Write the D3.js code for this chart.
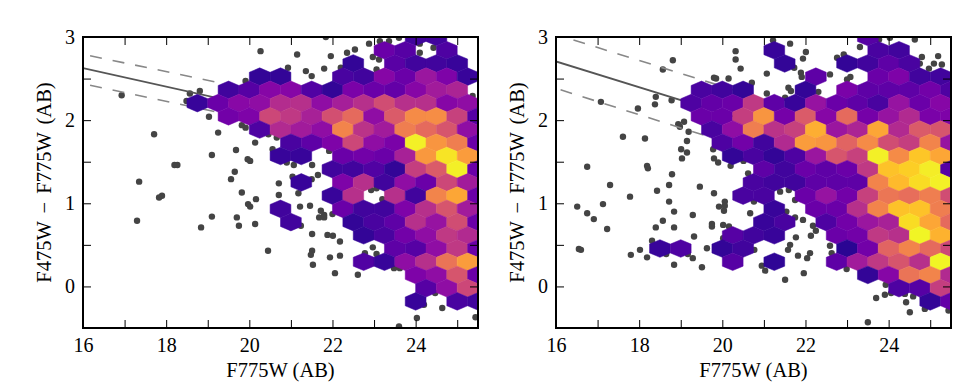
<!DOCTYPE html>
<html>
<head>
<meta charset="utf-8">
<script src="https://cdn.jsdelivr.net/npm/d3@7"></script>
<style>
    body { margin: 0; background: #fff; }
    text { font-family: "Liberation Serif", serif; fill: #000; }
    .tick line { stroke: #000; stroke-width: 1; }
    .tick text { font-size: 20px; }
    .domain { display: none; }
    .x-label { font-size: 20.5px; }
    .y-label { font-size: 20.5px; word-spacing: 3px; }
</style>
</head>
<body>
<div id="chart"></div>
<script>
const xTicks = [16, 17, 18, 19, 20, 21, 22, 23, 24, 25];
const yTicks = [-0.5, 0, 0.5, 1, 1.5, 2, 2.5, 3];
const xLabel = "F775W (AB)";
const yLabel = "F475W \u2212 F775W (AB)";

// hex grid: every row is 0.159 mag lower, odd rows shifted by a quarter mag
const hexColumns = [18.5, 19, 19.5, 20, 20.5, 21, 21.5, 22, 22.5, 23, 23.5, 24, 24.5, 25, 25.5];
const hexRows = [3, 2.841, 2.682, 2.523, 2.364, 2.205, 2.046, 1.887, 1.728, 1.569, 1.41,
    1.251, 1.092, 0.933, 0.774, 0.615, 0.456, 0.297, 0.138, -0.021, -0.18];

// colour level of each cell (percent along plasma), 0 = no cell
const leftLevels = [
    [0,0,0,0,0,0,0,0,0,0,0,10,10,0,0],
    [0,0,0,0,0,0,0,0,0,20,15,0,13,0,0],
    [0,0,0,0,0,0,0,0,7,0,16,10,10,8,0],
    [0,0,0,7,7,0,0,12,10,27,20,33,25,8,0],
    [0,0,10,15,27,27,14,7,24,20,18,27,35,38,0],
    [8,20,28,30,41,42,30,36,42,52,42,42,27,30,0],
    [0,0,22,25,50,45,37,53,62,30,57,72,73,48,15],
    [0,0,0,13,40,35,30,70,43,35,68,62,55,30,0],
    [0,0,0,0,0,12,17,25,50,30,24,98,75,68,20],
    [0,0,0,0,8,8,0,20,22,20,37,76,95,77,0],
    [0,0,0,0,0,0,0,10,10,14,7,47,57,98,20],
    [0,0,0,0,0,8,0,25,42,10,30,20,50,35,0],
    [0,0,0,0,0,0,0,8,42,0,42,10,70,80,20],
    [0,0,0,0,10,0,0,20,10,10,25,42,55,35,0],
    [0,0,0,0,0,10,0,0,7,12,17,42,32,52,20],
    [0,0,0,0,0,0,0,0,7,12,22,30,45,40,0],
    [0,0,0,0,0,0,0,0,0,0,17,15,30,45,20],
    [0,0,0,0,0,0,0,0,14,8,30,42,65,77,0],
    [0,0,0,0,0,0,0,0,0,0,0,25,30,55,20],
    [0,0,0,0,0,0,0,0,0,0,0,15,30,50,0],
    [0,0,0,0,0,0,0,0,0,0,0,8,0,12,10]
];
const rightLevels = [
    [0,0,0,0,0,0,0,0,0,0,15,0,0,0,0],
    [0,0,0,0,0,8,0,0,0,0,12,10,0,0,0],
    [0,0,0,0,0,0,7,0,0,7,10,17,12,0,0],
    [0,0,0,0,0,0,0,17,0,0,20,25,10,10,0],
    [0,0,12,10,7,0,0,7,0,24,17,17,17,22,13],
    [0,13,18,20,45,17,8,32,20,17,12,32,20,27,0],
    [0,0,20,20,47,75,23,57,27,62,23,32,40,24,25],
    [0,0,12,30,68,43,48,82,33,38,80,40,57,55,0],
    [0,0,0,13,22,10,40,77,75,60,72,52,47,70,32],
    [0,0,0,7,12,7,13,33,55,48,98,72,88,80,0],
    [0,0,0,0,0,17,10,20,17,20,45,87,90,97,15],
    [0,0,0,0,12,10,10,17,17,17,70,85,93,98,0],
    [0,0,0,0,12,12,0,20,32,22,48,66,63,68,52],
    [0,0,0,0,0,8,0,20,20,42,70,87,87,68,0],
    [0,0,0,0,0,8,12,0,13,22,33,37,93,80,62],
    [0,0,0,15,10,8,0,0,20,22,45,42,99,83,0],
    [8,13,0,7,10,0,0,0,0,5,22,60,70,62,50],
    [0,0,0,15,0,6,0,0,17,35,45,55,42,99,0],
    [0,0,0,0,0,0,0,0,0,0,7,27,65,70,40],
    [0,0,0,0,0,0,0,0,0,0,0,13,15,47,0],
    [0,0,0,0,0,0,0,0,0,0,0,0,0,7,18]
];

// single stars outside the hexbins
const leftStarsX = [16.93,20.27,19.91,18.81,18.57,18.49,19.03,17.71,19.25,19.82,19.91,20.14,19.68,19.10,20.56,20.46,20.66,19.96,20.02,18.20,18.27,19.65,19.56,
    17.35,20.71,19.82,20.71,20.16,17.83,17.90,19.97,20.02,19.10,19.70,17.30,20.14,19.75,18.84,20.45,
    21.15,21.96,22.35,22.54,22.88,21.84,23.14,23.36,23.60,24.10,24.43,24.10,22.97,23.12,21.36,21.50,21.80,20.93,22.20,23.06,25.37,21.92,21.51,21.07,20.90,21.65,21.04,21.50,
    21.18,22.93,23.06,23.20,21.22,21.46,21.72,21.68,21.80,21.80,22.00,21.24,21.51,21.88,22.01,22.18,22.97,21.51,21.48,21.94,22.18,22.78,23.06,21.53,22.06,22.61,23.48,23.62,24.47,24.20,24.64,24.03,23.60,25.44];
const leftStarsY = [2.30,2.83,2.47,2.35,2.32,2.23,2.04,1.83,1.85,1.94,1.91,1.73,1.64,1.58,1.65,1.83,1.79,1.53,1.51,1.46,1.46,1.38,1.29,
    1.26,1.24,1.13,1.10,1.05,1.07,1.09,0.99,0.96,0.84,0.83,0.79,0.75,0.73,0.71,0.43,
    2.79,2.77,2.81,2.85,2.92,3.00,2.95,2.95,2.99,2.92,2.87,2.81,2.76,2.73,2.59,2.53,2.62,2.63,2.63,2.61,2.29,1.63,1.46,1.46,1.49,1.34,1.32,1.29,
    1.12,1.16,1.18,1.05,0.96,0.97,0.91,0.83,0.86,0.83,0.87,0.73,0.63,0.62,0.61,0.54,0.47,0.43,0.38,0.35,0.37,0.40,0.39,0.26,0.16,0.14,0.22,0.22,-0.08,-0.22,-0.26,-0.38,-0.48,-0.37];
const rightStarsX = [20.32,20.32,20.44,18.81,18.57,19.80,19.85,20.15,20.71,18.40,18.38,18.78,17.08,17.97,18.94,18.98,19.08,19.19,17.61,18.14,19.15,19.01,19.15,19.03,19.78,19.80,19.90,20.20,20.51,20.62,16.75,18.19,18.21,18.79,
    17.30,18.43,18.72,19.46,19.80,17.78,17.13,18.72,16.51,16.75,16.91,17.23,18.84,18.57,18.40,18.84,19.29,19.92,20.04,20.06,20.06,20.67,19.75,19.75,20.02,20.16,19.32,18.31,20.02,19.63,16.55,16.60,18.02,17.80,18.19,18.65,19.17,19.29,18.84,19.51,
    21.22,21.63,22.01,21.94,21.73,21.07,21.89,21.91,22.59,22.76,22.92,23.31,23.77,24.03,24.63,24.80,25.19,25.09,25.28,24.97,24.75,23.08,23.00,21.59,21.65,21.07,22.31,21.51,
    21.39,21.60,21.75,20.76,21.54,21.75,21.94,22.18,22.25,22.13,21.77,21.63,21.58,21.82,22.04,22.11,22.59,22.63,20.77,20.95,21.03,21.51,21.96,22.99,23.93,23.70,23.91,24.06,24.39,24.59,24.42,24.51,24.87,25.44,23.50];
const rightStarsY = [2.83,2.73,2.62,2.72,2.61,2.51,2.50,2.50,2.45,2.28,2.19,2.24,2.22,2.14,1.95,1.92,1.98,1.86,1.80,1.78,1.75,1.65,1.61,1.54,1.65,1.54,1.49,1.45,1.51,1.36,1.44,1.45,1.42,1.35,
    1.22,1.15,1.22,1.20,1.12,1.08,0.99,1.02,0.96,0.88,0.81,0.69,0.90,0.79,0.71,0.71,0.86,0.96,0.91,1.02,0.97,0.88,0.75,0.72,0.74,0.72,0.60,0.55,0.58,0.46,0.45,0.44,0.44,0.38,0.35,0.39,0.39,0.34,0.26,0.23,
    2.96,2.92,2.82,2.74,2.63,2.56,2.57,2.52,2.55,2.75,2.79,2.88,2.97,2.99,2.97,2.76,2.77,2.68,2.67,2.62,2.68,2.52,2.49,2.39,2.35,2.32,2.34,2.27,
    1.14,1.16,1.04,1.02,0.90,0.83,0.80,0.73,0.67,0.61,0.59,0.50,0.44,0.37,0.34,0.40,0.49,0.40,0.44,0.25,0.19,0.08,0.16,0.21,0.02,-0.14,-0.10,-0.08,-0.09,-0.12,-0.19,-0.31,-0.27,-0.29,-0.43];

// fitted sequence lines: [x start, x end], [y start, y end]
const leftSolidX = [16, 21], leftSolidY = [2.627, 2.07];
const leftUpperX = [16.17, 21], leftUpperY = [2.775, 2.27];
const leftLowerX = [16.17, 21], leftLowerY = [2.42, 1.91];
const rightSolidX = [16, 21], rightSolidY = [2.706, 1.93];
const rightUpperX = [16.42, 21], rightUpperY = [2.964, 2.25];
const rightLowerX = [16.11, 21], rightLowerY = [2.365, 1.59];

const WIDTH = 395, HEIGHT = 291;
const TOP = 37;

const svg = d3.select("#chart").append("svg")
    .attr("width", 980)
    .attr("height", 392);

function drawPanel(left, levels, starsX, starsY, lines, id) {
    const g = svg.append("g").attr("transform", `translate(${left}, ${TOP})`);

    const x = d3.scaleLinear().domain([16, 25.5]).range([0, WIDTH]);
    const y = d3.scaleLinear().domain([-0.5, 3]).range([HEIGHT, 0]);

    g.append("clipPath").attr("id", id)
        .append("rect").attr("width", WIDTH).attr("height", HEIGHT);
    const plot = g.append("g").attr("clip-path", `url(#${id})`);

    // stars
    plot.selectAll("circle")
        .data(starsX.map((d, i) => [d, starsY[i]]))
        .enter().append("circle")
            .attr("cx", d => x(d[0]))
            .attr("cy", d => y(d[1]))
            .attr("r", 3.2)
            .attr("fill", "#444");

    // sequence lines
    const lineGen = d3.line().x(d => x(d[0])).y(d => y(d[1]));
    lines.forEach(l => {
        plot.append("path")
            .attr("d", lineGen(l.xs.map((d, i) => [d, l.ys[i]])))
            .attr("fill", "none")
            .attr("stroke", l.dash ? "#888" : "#555")
            .attr("stroke-width", l.dash ? 1.6 : 1.8)
            .attr("stroke-dasharray", l.dash ? "12 11" : null);
    });

    // hexbins
    const cells = [];
    levels.forEach((row, r) => row.forEach((v, c) => {
        if (v > 0) cells.push({ x: hexColumns[c] + (r % 2 ? 0.25 : 0), y: hexRows[r], v: v });
    }));
    const halfW = 0.25, rad = 0.106;
    const hexLine = d3.line().x(d => x(d[0])).y(d => y(d[1]));
    plot.selectAll(".hex")
        .data(cells)
        .enter().append("path")
            .attr("class", "hex")
            .attr("d", d => hexLine([
                [d.x, d.y + rad], [d.x + halfW, d.y + rad / 2], [d.x + halfW, d.y - rad / 2],
                [d.x, d.y - rad], [d.x - halfW, d.y - rad / 2], [d.x - halfW, d.y + rad / 2]
            ]) + "Z")
            .attr("fill", d => d3.interpolatePlasma(d.v / 100))
            .attr("stroke", d => d3.interpolatePlasma(d.v / 100))
            .attr("stroke-width", 0.5);

    // axes, ticks point inward on all four sides
    const xFmt = d => (d % 2 === 0 ? d : "");
    const yFmt = d => (Number.isInteger(d) ? d : "");
    g.append("g").attr("transform", `translate(0, ${HEIGHT})`)
        .call(d3.axisBottom(x).tickValues(xTicks).tickSizeInner(-8).tickPadding(10).tickFormat(xFmt))
        .call(a => a.selectAll("text").attr("dy", "0.71em"));
    g.append("g")
        .call(d3.axisTop(x).tickValues(xTicks).tickSizeInner(-8).tickFormat(""));
    g.append("g")
        .call(d3.axisLeft(y).tickValues(yTicks).tickSizeInner(-8).tickPadding(8).tickFormat(yFmt));
    g.append("g").attr("transform", `translate(${WIDTH}, 0)`)
        .call(d3.axisRight(y).tickValues(yTicks).tickSizeInner(-8).tickFormat(""));

    // frame
    g.append("rect")
        .attr("width", WIDTH).attr("height", HEIGHT)
        .attr("fill", "none").attr("stroke", "#000").attr("stroke-width", 2);

    // labels
    g.append("text")
        .attr("class", "x-label")
        .attr("x", WIDTH / 2)
        .attr("y", HEIGHT + 49)
        .attr("text-anchor", "middle")
        .text(xLabel);
    g.append("text")
        .attr("class", "y-label")
        .attr("x", -(HEIGHT / 2))
        .attr("y", -32)
        .attr("text-anchor", "middle")
        .attr("transform", "rotate(-90)")
        .text(yLabel);
}

drawPanel(83, leftLevels, leftStarsX, leftStarsY, [
    { xs: leftSolidX, ys: leftSolidY },
    { xs: leftUpperX, ys: leftUpperY, dash: true },
    { xs: leftLowerX, ys: leftLowerY, dash: true }
], "clip-left");

drawPanel(556, rightLevels, rightStarsX, rightStarsY, [
    { xs: rightSolidX, ys: rightSolidY },
    { xs: rightUpperX, ys: rightUpperY, dash: true },
    { xs: rightLowerX, ys: rightLowerY, dash: true }
], "clip-right");
</script>
</body>
</html>
